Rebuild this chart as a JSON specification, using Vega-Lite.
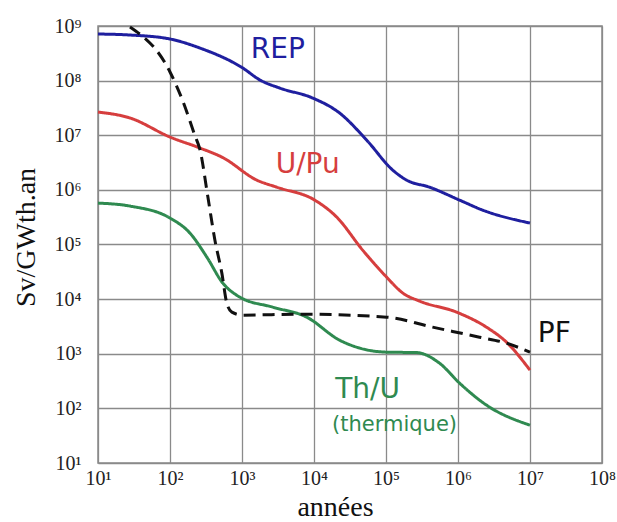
{
  "$schema": "https://vega.github.io/schema/vega-lite/v6.json",
  "width": 504,
  "height": 437,
  "autosize": {"type": "none"},
  "padding": {"left": 98, "top": 26, "right": 15, "bottom": 59},
  "background": "white",
  "config": {
    "view": {"stroke": "#8a8a8a", "strokeWidth": 1.5},
    "axis": {"gridColor": "#8a8a8a", "gridWidth": 1.3, "gridOpacity": 1, "domain": false, "ticks": false, "tickSize": 0}
  },
  "datasets": {
    "curves": [
      {"serie": "REP", "t": 10, "sv": 7.13e8},
      {"serie": "REP", "t": 27.8, "sv": 6.84e8},
      {"serie": "REP", "t": 100, "sv": 5.78e8},
      {"serie": "REP", "t": 260, "sv": 3.95e8},
      {"serie": "REP", "t": 1026, "sv": 1.7e8},
      {"serie": "REP", "t": 1766, "sv": 1.03e8},
      {"serie": "REP", "t": 3342, "sv": 7.31e7},
      {"serie": "REP", "t": 9594, "sv": 4.8e7},
      {"serie": "REP", "t": 22700, "sv": 2.55e7},
      {"serie": "REP", "t": 53800, "sv": 8.17e6},
      {"serie": "REP", "t": 123600, "sv": 2.31e6},
      {"serie": "REP", "t": 193200, "sv": 1.51e6},
      {"serie": "REP", "t": 402700, "sv": 1.12e6},
      {"serie": "REP", "t": 1050000, "sv": 6.5e5},
      {"serie": "REP", "t": 2190000, "sv": 4.27e5},
      {"serie": "REP", "t": 10000000, "sv": 2.47e5},
      {"serie": "U/Pu", "t": 10, "sv": 2.66e7},
      {"serie": "U/Pu", "t": 27.8, "sv": 2.07e7},
      {"serie": "U/Pu", "t": 100, "sv": 9.27e6},
      {"serie": "U/Pu", "t": 260, "sv": 5.84e6},
      {"serie": "U/Pu", "t": 542, "sv": 3.9e6},
      {"serie": "U/Pu", "t": 1603, "sv": 1.51e6},
      {"serie": "U/Pu", "t": 3041, "sv": 1.12e6},
      {"serie": "U/Pu", "t": 10230, "sv": 6.5e5},
      {"serie": "U/Pu", "t": 20650, "sv": 3.18e5},
      {"serie": "U/Pu", "t": 47420, "sv": 7.89e4},
      {"serie": "U/Pu", "t": 101900, "sv": 2.53e4},
      {"serie": "U/Pu", "t": 169800, "sv": 1.3e4},
      {"serie": "U/Pu", "t": 292400, "sv": 9200},
      {"serie": "U/Pu", "t": 953000, "sv": 5780},
      {"serie": "U/Pu", "t": 2480000, "sv": 3070},
      {"serie": "U/Pu", "t": 4710000, "sv": 1630},
      {"serie": "U/Pu", "t": 10000000, "sv": 501},
      {"serie": "Th/U", "t": 10, "sv": 5.73e5},
      {"serie": "Th/U", "t": 27.8, "sv": 5.05e5},
      {"serie": "Th/U", "t": 100, "sv": 3.05e5},
      {"serie": "Th/U", "t": 189, "sv": 1.62e5},
      {"serie": "Th/U", "t": 325, "sv": 5.87e4},
      {"serie": "Th/U", "t": 542, "sv": 1.96e4},
      {"serie": "Th/U", "t": 931, "sv": 1.09e4},
      {"serie": "Th/U", "t": 2673, "sv": 7130},
      {"serie": "Th/U", "t": 7925, "sv": 4680},
      {"serie": "Th/U", "t": 22700, "sv": 1770},
      {"serie": "Th/U", "t": 43050, "sv": 1270},
      {"serie": "Th/U", "t": 101900, "sv": 1070},
      {"serie": "Th/U", "t": 265500, "sv": 1050},
      {"serie": "Th/U", "t": 553000, "sv": 673},
      {"serie": "Th/U", "t": 1050000, "sv": 290},
      {"serie": "Th/U", "t": 2480000, "sv": 115},
      {"serie": "Th/U", "t": 10000000, "sv": 49.2},
      {"serie": "PF", "t": 27.8, "sv": 9.59e8},
      {"serie": "PF", "t": 100, "sv": 1.44e8},
      {"serie": "PF", "t": 151, "sv": 4.2e7},
      {"serie": "PF", "t": 221, "sv": 1.0e7},
      {"serie": "PF", "t": 260, "sv": 5.5e6},
      {"serie": "PF", "t": 336, "sv": 7.38e5},
      {"serie": "PF", "t": 420, "sv": 1.21e5},
      {"serie": "PF", "t": 525, "sv": 2.99e4},
      {"serie": "PF", "t": 615, "sv": 8450},
      {"serie": "PF", "t": 723, "sv": 5780},
      {"serie": "PF", "t": 1026, "sv": 5090},
      {"serie": "PF", "t": 6340, "sv": 5310},
      {"serie": "PF", "t": 101900, "sv": 4680},
      {"serie": "PF", "t": 443000, "sv": 3070},
      {"serie": "PF", "t": 1990000, "sv": 2010},
      {"serie": "PF", "t": 4710000, "sv": 1560},
      {"serie": "PF", "t": 10000000, "sv": 1070}
    ],
    "labels": [
      {"label": "REP", "serie": "REP", "kind": "main", "t": 3140, "sv": 3.63e8},
      {"label": "U/Pu", "serie": "U/Pu", "kind": "main", "t": 8180, "sv": 2.85e6},
      {"label": "PF", "serie": "PF", "kind": "main", "t": 2.18e7, "sv": 2290},
      {"label": "Th/U", "serie": "Th/U", "kind": "main", "t": 55600, "sv": 215},
      {"label": "(thermique)", "serie": "Th/U", "kind": "sub", "t": 131500, "sv": 49.2}
    ]
  },
  "encoding": {
    "x": {
      "field": "t", "type": "quantitative",
      "scale": {"type": "log", "domain": [10, 100000000], "nice": false},
      "axis": {
        "values": [10, 100, 1000, 10000, 100000, 1000000, 10000000, 100000000],
        "labelExpr": "'10' + ['⁰','¹','²','³','⁴','⁵','⁶','⁷','⁸','⁹'][round(log(datum.value)/LN10)]",
        "labelFont": "Liberation Serif", "labelFontSize": 20, "labelColor": "#222222",
        "labelPadding": 5, "labelFlush": false, "labelOverlap": false,
        "title": "années", "titleFont": "Liberation Serif", "titleFontSize": 28,
        "titleFontWeight": "normal", "titleColor": "#111111",
        "titleBaseline": "alphabetic", "titleX": 237, "titleY": 52
      }
    },
    "y": {
      "field": "sv", "type": "quantitative",
      "scale": {"type": "log", "domain": [10, 1000000000], "nice": false},
      "axis": {
        "values": [10, 100, 1000, 10000, 100000, 1000000, 10000000, 100000000, 1000000000],
        "labelExpr": "'10' + ['⁰','¹','²','³','⁴','⁵','⁶','⁷','⁸','⁹'][round(log(datum.value)/LN10)]",
        "labelFont": "Liberation Serif", "labelFontSize": 20, "labelColor": "#222222",
        "labelPadding": 17, "labelFlush": false, "labelOverlap": false,
        "title": "Sv/GWth.an", "titleFont": "Liberation Serif", "titleFontSize": 28,
        "titleFontWeight": "normal", "titleColor": "#111111",
        "titleBaseline": "alphabetic", "titleX": -64, "titleY": 211, "titleAngle": -90
      }
    },
    "color": {
      "field": "serie", "type": "nominal", "legend": null,
      "scale": {"domain": ["REP", "U/Pu", "Th/U", "PF"], "range": ["#1f1f9f", "#d63e3e", "#2f8a50", "#111111"]}
    }
  },
  "layer": [
    {
      "data": {"name": "curves"},
      "mark": {"type": "line", "strokeWidth": 3, "interpolate": "monotone", "strokeCap": "butt"},
      "encoding": {
        "detail": {"field": "serie"},
        "strokeDash": {
          "field": "serie", "type": "nominal", "legend": null,
          "scale": {"domain": ["REP", "U/Pu", "Th/U", "PF"], "range": [[1, 0], [1, 0], [1, 0], [12, 7]]}
        }
      }
    },
    {
      "data": {"name": "labels"},
      "transform": [{"filter": "datum.kind == 'main'"}],
      "mark": {"type": "text", "font": "DejaVu Sans", "fontSize": 28, "align": "center", "baseline": "middle"},
      "encoding": {"text": {"field": "label"}}
    },
    {
      "data": {"name": "labels"},
      "transform": [{"filter": "datum.kind == 'sub'"}],
      "mark": {"type": "text", "font": "DejaVu Sans", "fontSize": 21, "align": "center", "baseline": "middle"},
      "encoding": {"text": {"field": "label"}}
    }
  ]
}
